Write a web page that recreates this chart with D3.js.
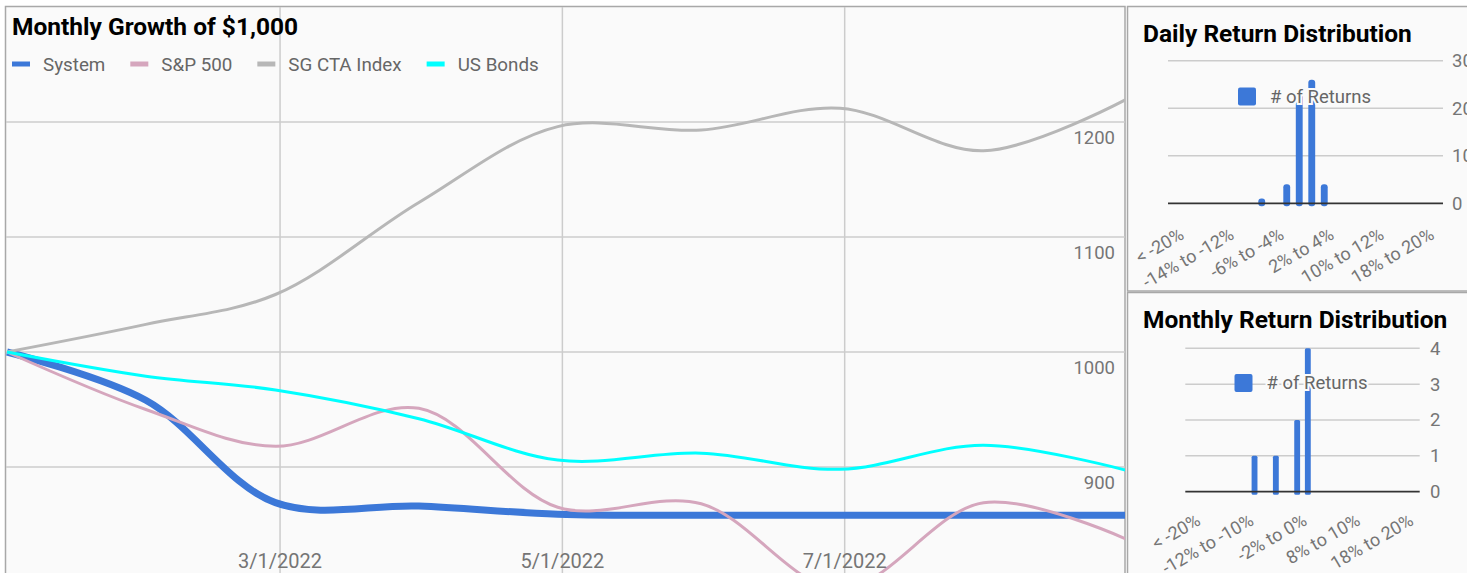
<!DOCTYPE html>
<html>
<head>
<meta charset="utf-8">
<title>Monthly Growth of $1,000</title>
<script src="https://cdnjs.cloudflare.com/ajax/libs/d3/7.8.5/d3.min.js"></script>
<style>
  body { margin: 0; background: #fff; font-family: Roboto, sans-serif; }
  svg { display: block; }
</style>
</head>
<body>
<svg id="chart" width="1467" height="573"></svg>
<script>
// ---- data ----
var dates = ['2022-01-01', '2022-01-31', '2022-02-28', '2022-03-31', '2022-04-30',
             '2022-05-31', '2022-06-30', '2022-07-31', '2022-08-31'];
var system  = [1000, 958, 869, 866, 859, 858, 858, 858, 858];
var sp500   = [1000, 950, 918, 951, 865, 868, 794, 869, 837];
var sgCta   = [1000, 1024, 1050, 1130, 1196, 1193, 1212, 1175, 1220];
var usBonds = [1000, 979, 967, 942, 906, 912, 898, 919, 897];
var seriesNames  = ['System', 'S&P 500', 'SG CTA Index', 'US Bonds'];
var seriesColors = ['#3c78d8', '#d5a6bd', '#b7b7b7', '#00ffff'];
var dateTicks  = ['2022-03-01', '2022-05-01', '2022-07-01'];
var valueTicks = [900, 1000, 1100, 1200];

var buckets = ['< -20%', '-20% to -18%', '-18% to -16%', '-16% to -14%', '-14% to -12%',
               '-12% to -10%', '-10% to -8%', '-8% to -6%', '-6% to -4%', '-4% to -2%',
               '-2% to 0%', '0% to 2%', '2% to 4%', '4% to 6%', '6% to 8%', '8% to 10%',
               '10% to 12%', '12% to 14%', '14% to 16%', '16% to 18%', '18% to 20%', '> 20%'];
var dailyCounts   = [0, 0, 0, 0, 0, 0, 0, 1, 0, 4, 23, 26, 4, 0, 0, 0, 0, 0, 0, 0, 0, 0];
var monthlyCounts = [0, 0, 0, 0, 0, 0, 1, 0, 1, 0, 2, 4, 0, 0, 0, 0, 0, 0, 0, 0, 0, 0];
var dailyTicks   = [0, 10, 20, 30];
var monthlyTicks = [0, 1, 2, 3, 4];

var parse = d3.timeParse('%Y-%m-%d');
var fmt = d3.timeFormat('%-m/%-d/%Y');
var svg = d3.select('#chart');

// panel frames
function panel(x, y, w, h) {
  svg.append('rect').attr('x', x).attr('y', y).attr('width', w).attr('height', h)
    .attr('fill', '#fafafa').attr('stroke', '#a8a8a8').attr('stroke-width', 1.5);
}
panel(5.5, 6.5, 1119.5, 600);
panel(1127.5, 6.5, 360, 284.5);
panel(1127.5, 292.5, 360, 300);

// ---- main line chart ----
var x = d3.scaleTime()
  .domain(d3.extent(dates, parse))
  .range([7, 1127]);
var y = d3.scaleLinear().domain([800, 1300]).range([582, 7]);

svg.append('clipPath').attr('id', 'mainclip')
  .append('rect').attr('x', 6).attr('y', 7).attr('width', 1119).attr('height', 600);

var main = svg.append('g').attr('clip-path', 'url(#mainclip)');

main.append('g').selectAll('line').data(valueTicks).join('line')
  .attr('x1', 6).attr('x2', 1125)
  .attr('y1', function(d){ return y(d); }).attr('y2', function(d){ return y(d); })
  .attr('stroke', '#cccccc').attr('stroke-width', 1.5);

main.append('g').selectAll('line').data(dateTicks.map(parse)).join('line')
  .attr('x1', function(d){ return x(d); }).attr('x2', function(d){ return x(d); })
  .attr('y1', 7).attr('y2', 600)
  .attr('stroke', '#cccccc').attr('stroke-width', 1.5);

var series = [system, sp500, sgCta, usBonds];
var line = d3.line()
  .x(function(d, i){ return x(parse(dates[i])); })
  .y(function(d){ return y(d); })
  .curve(d3.curveCatmullRom.alpha(0.5));

series.forEach(function(s, i) {
  main.append('path').datum(s)
    .attr('d', line)
    .attr('fill', 'none')
    .attr('stroke', seriesColors[i])
    .attr('stroke-width', i === 0 ? 7 : 3)
    .attr('stroke-linejoin', 'round');
});

// axis labels (inside)
main.append('g').selectAll('text').data(valueTicks).join('text')
  .attr('x', 1115).attr('y', function(d){ return y(d) + 22; })
  .attr('text-anchor', 'end')
  .attr('font-size', 18.5).attr('fill', '#757575')
  .text(function(d){ return d; });

main.append('g').selectAll('text').data(dateTicks.map(parse)).join('text')
  .attr('x', function(d){ return x(d); }).attr('y', 568)
  .attr('text-anchor', 'middle')
  .attr('font-size', 20).attr('fill', '#757575')
  .text(function(d){ return fmt(d); });

// title + legend
svg.append('text').attr('x', 12).attr('y', 35)
  .attr('font-size', 24.5).attr('font-weight', 'bold').attr('fill', '#000')
  .text('Monthly Growth of $1,000');

var lx = 12;
seriesNames.forEach(function(name, i) {
  svg.append('rect').attr('x', lx).attr('y', 61.5).attr('width', 18).attr('height', 5)
    .attr('fill', seriesColors[i]);
  var t = svg.append('text').attr('x', lx + 31).attr('y', 64).attr('dy', '0.35em')
    .attr('font-size', 18.8).attr('fill', '#666')
    .text(name);
  lx += 31 + t.node().getComputedTextLength() + 25;
});

// ---- return distribution histograms ----
function histogram(o) {
  var g = svg.append('g');
  var xb = d3.scaleBand().domain(buckets).range(o.xr).paddingInner(0.45).paddingOuter(0.22);
  var yb = d3.scaleLinear().domain(d3.extent(o.ticks)).range(o.yr);

  g.append('text').attr('x', 1143).attr('y', o.titleY)
    .attr('font-size', 24.5).attr('font-weight', 'bold').attr('fill', '#000')
    .text(o.title);

  g.append('g').selectAll('line').data(o.ticks.slice(1)).join('line')
    .attr('x1', o.xr[0]).attr('x2', o.xr[1])
    .attr('y1', function(d){ return yb(d); }).attr('y2', function(d){ return yb(d); })
    .attr('stroke', '#cccccc').attr('stroke-width', 1.5);

  g.append('g').selectAll('text').data(o.ticks).join('text')
    .attr('x', o.labelX).attr('y', function(d){ return yb(d); }).attr('dy', '0.35em')
    .attr('font-size', 18.5).attr('fill', '#757575')
    .text(function(d){ return d; });

  var bars = buckets.map(function(b, i){ return {b: b, v: o.counts[i]}; })
    .filter(function(d){ return d.v > 0; });
  g.append('g').selectAll('rect').data(bars).join('rect')
    .attr('x', function(d){ return xb(d.b); })
    .attr('width', xb.bandwidth())
    .attr('y', function(d){ return yb(d.v); })
    .attr('height', function(d){ return yb(0) - yb(d.v) + 3; })
    .attr('rx', o.rx)
    .attr('fill', '#3c78d8');

  g.append('line').attr('x1', o.xr[0]).attr('x2', o.xr[1])
    .attr('y1', yb(0)).attr('y2', yb(0))
    .attr('stroke', '#333').attr('stroke-width', 1.8);

  g.append('g').selectAll('text')
    .data(buckets.filter(function(d, i){ return i % o.every === 0; })).join('text')
    .attr('transform', function(d){
      return 'translate(' + (xb(d) + xb.bandwidth() / 2 + 11) + ',' + o.labelY + ') rotate(-30)';
    })
    .attr('text-anchor', 'end')
    .attr('font-size', 18).attr('fill', '#757575')
    .text(function(d){ return d; });

  // legend sits over the bars with a halo
  g.append('rect').attr('x', o.legX).attr('y', o.legY - 9).attr('width', 18).attr('height', 18)
    .attr('rx', 2).attr('fill', '#3c78d8');
  g.append('text').attr('x', o.legX + 32).attr('y', o.legY).attr('dy', '0.35em')
    .attr('font-size', 18.5).attr('fill', '#666')
    .attr('stroke', '#fafafa').attr('stroke-width', 4).attr('paint-order', 'stroke')
    .text('# of Returns');
}

histogram({
  title: 'Daily Return Distribution', titleY: 42,
  counts: dailyCounts, ticks: dailyTicks,
  xr: [1168, 1443], yr: [203.3, 60.7],
  labelX: 1452, labelY: 238, every: 4, rx: 3,
  legX: 1238, legY: 96.5
});

histogram({
  title: 'Monthly Return Distribution', titleY: 328,
  counts: monthlyCounts, ticks: monthlyTicks,
  xr: [1185.3, 1419.7], yr: [491.7, 348.3],
  labelX: 1430, labelY: 524, every: 5, rx: 1.5,
  legX: 1234.5, legY: 383
});
</script>
</body>
</html>
